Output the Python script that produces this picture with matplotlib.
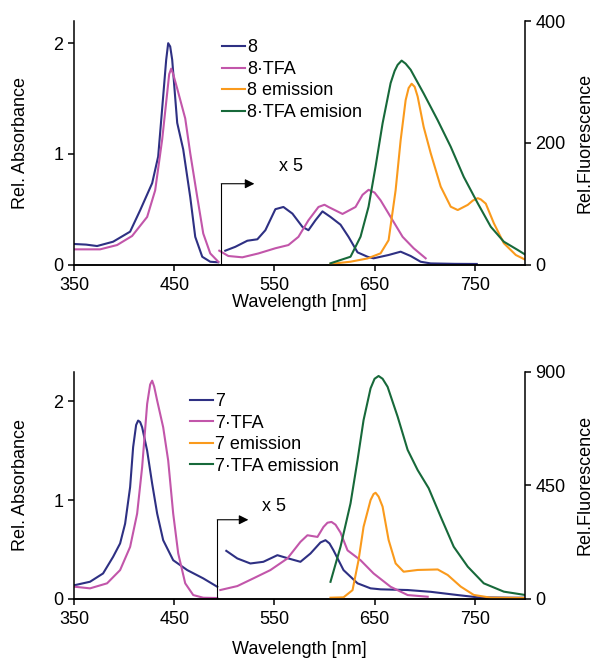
import numpy as np
import matplotlib.pyplot as plt
import matplotlib as mpl

mpl.rcParams.update({
    "font.family": ["Liberation Sans", "DejaVu Sans"],
    "font.size": 13,
    "axes.linewidth": 1.1,
    "xtick.direction": "out",
    "ytick.direction": "out",
    "xtick.major.size": 4,
    "ytick.major.size": 4,
    "xtick.major.width": 1.1,
    "ytick.major.width": 1.1,
    "xtick.major.pad": 5,
    "lines.linewidth": 1.5,
})

NAVY = "#2e3083"
MAGENTA = "#c256aa"
ORANGE = "#fa9a1c"
GREEN = "#17693a"

# ---------------- compound 8 (top panel) ----------------
abs8_x = [351, 362, 373, 389, 406, 416, 428, 434, 439, 442, 444, 446, 448, 453, 459, 466, 471, 478, 486, 494]
abs8_y = [0.185, 0.18, 0.167, 0.206, 0.297, 0.49, 0.735, 0.976, 1.52, 1.85, 2.0, 1.97, 1.85, 1.28, 1.04, 0.61, 0.25, 0.07, 0.025, 0.02]
abs8_x5_x = [501, 511, 523, 533, 541, 551, 559, 568, 578, 584, 591, 598, 606, 616, 624, 633, 643,
             649, 664, 676, 686, 696, 706, 730, 752]
abs8_x5_y = [0.125, 0.16, 0.215, 0.228, 0.31, 0.5, 0.52, 0.46, 0.34, 0.31, 0.40, 0.48, 0.43, 0.36, 0.25, 0.11, 0.07,
             0.056, 0.086, 0.116, 0.077, 0.025, 0.01, 0.006, 0.005]

abs8tfa_x = [351, 376, 393, 408, 423, 431, 438, 443, 445, 447, 449, 453, 461, 466, 473, 479, 486, 494]
abs8tfa_y = [0.137, 0.137, 0.176, 0.258, 0.43, 0.67, 1.13, 1.55, 1.72, 1.77, 1.72, 1.59, 1.32, 1.006, 0.61, 0.28, 0.10, 0.025]
abs8tfa_x5_x = [495, 504, 518, 534, 551, 564, 574, 584, 594, 600, 604, 618, 631, 638, 644, 650, 656, 666, 678, 689, 701]
abs8tfa_x5_y = [0.125, 0.077, 0.065, 0.10, 0.147, 0.176, 0.25, 0.40, 0.52, 0.54, 0.52, 0.457, 0.52, 0.63, 0.675, 0.65, 0.58, 0.43, 0.25, 0.147, 0.056]

em8_x = [606, 626, 643, 656, 664, 671, 676, 681, 684, 687, 690, 693, 699, 706, 716, 726, 733, 743, 748, 753, 756, 761, 769, 779, 791, 801]
em8_y = [1, 4.6, 10, 18.4, 40, 122, 204, 270, 290, 297, 292, 276, 226, 183, 128, 95, 89.5, 98, 105, 109, 107, 100, 68, 35, 15.6, 7.4]

em8tfa_x = [606, 626, 636, 644, 651, 658, 666, 670, 673, 677, 681, 686, 699, 713, 726, 739, 753, 766, 779, 793, 801]
em8tfa_y = [2, 12.8, 45.7, 95, 161, 232, 298, 318, 328, 335, 330, 320, 281, 237, 193.5, 144, 100.5, 62, 37.5, 23.8, 15.6]

# ---------------- compound 7 (bottom panel) ----------------
abs7_x = [351, 366, 379, 389, 396, 401, 406, 409, 412, 414, 416, 418, 423, 428, 433, 439, 449, 463, 479, 493]
abs7_y = [0.138, 0.172, 0.256, 0.424, 0.56, 0.76, 1.13, 1.535, 1.76, 1.805, 1.79, 1.737, 1.50, 1.166, 0.862, 0.593, 0.39, 0.29, 0.206, 0.121]
abs7_x5_x = [502, 513, 526, 539, 553, 564, 576, 586, 596, 601, 605, 609, 619, 633, 646, 656, 683, 706, 733, 753, 789, 800]
abs7_x5_y = [0.485, 0.408, 0.357, 0.374, 0.441, 0.408, 0.374, 0.458, 0.57, 0.593, 0.56, 0.49, 0.29, 0.156, 0.105, 0.095, 0.088, 0.07, 0.037, 0.014, 0.01, 0.01]

abs7tfa_x = [351, 366, 383, 396, 406, 413, 418, 423, 426, 428, 430, 433, 439, 444, 449, 454, 461, 469, 479, 493]
abs7tfa_y = [0.121, 0.105, 0.156, 0.29, 0.525, 0.862, 1.333, 1.974, 2.17, 2.209, 2.15, 2.007, 1.737, 1.40, 0.862, 0.459, 0.156, 0.037, 0.01, 0.007]
abs7tfa_x5_x = [496, 513, 529, 546, 563, 576, 583, 593, 599, 603, 607, 611, 616, 623, 636, 649, 666, 683, 703]
abs7tfa_x5_y = [0.088, 0.128, 0.206, 0.29, 0.408, 0.576, 0.643, 0.626, 0.727, 0.77, 0.778, 0.75, 0.67, 0.49, 0.39, 0.256, 0.121, 0.037, 0.02]

em7_x = [606, 619, 628, 634, 639, 646, 649, 651, 654, 658, 664, 671, 679, 693, 713, 723, 736, 749, 766, 803]
em7_y = [4, 5.5, 34, 153, 285, 391, 415, 420, 405, 365, 233, 140, 107, 114, 116, 94, 48, 15, 4, 3]

em7tfa_x = [606, 616, 626, 633, 639, 646, 650, 654, 658, 663, 673, 683, 693, 704, 716, 729, 743, 759, 779, 800]
em7tfa_y = [67, 206, 378, 550, 708, 834, 872, 883, 872, 840, 722, 590, 510, 438, 325, 206, 127, 61, 28, 15]

x_ticks = [350, 450, 550, 650, 750]


def panel(rect, name, abs_x, abs_y, absx5_x, absx5_y, tfa_x, tfa_y, tfax5_x, tfax5_y,
          em_x, em_y, emt_x, emt_y, abs_top, abs_ticks, fl_top, fl_ticks, emt_label,
          arrow_x, arrow_y, arrow_end, text_xy, leg_xy, xlabelpad):
    ax = fig.add_axes(rect)
    ax2 = ax.twinx()

    ax.plot(abs_x, abs_y, color=NAVY)
    ax.plot(absx5_x, absx5_y, color=NAVY)
    ax.plot(tfa_x, tfa_y, color=MAGENTA)
    ax.plot(tfax5_x, tfax5_y, color=MAGENTA)
    ax2.plot(em_x, em_y, color=ORANGE)
    ax2.plot(emt_x, emt_y, color=GREEN)

    ax.set_xlim(350, 800)
    ax.set_ylim(0, abs_top)
    ax2.set_ylim(0, fl_top)
    ax.set_xticks(x_ticks)
    ax.set_yticks(abs_ticks)
    ax2.set_yticks(fl_ticks)

    for a in (ax, ax2):
        a.spines["top"].set_visible(False)
    ax.spines["right"].set_visible(False)
    ax2.spines["left"].set_visible(False)

    ax.set_xlabel("Wavelength [nm]", labelpad=xlabelpad)
    ax.set_ylabel("Rel. Absorbance")
    ax2.set_ylabel("Rel.Fluorescence")
    ax.yaxis.set_label_coords(-0.100, 0.5)
    ax2.yaxis.set_label_coords(1.115, 0.5)

    # x5 marker
    ax.plot([arrow_x, arrow_x], [0, arrow_y], color="black", lw=0.8)
    ax.annotate("", xy=(arrow_end, arrow_y), xytext=(arrow_x, arrow_y),
                arrowprops=dict(arrowstyle="-|>", color="black", lw=0.8,
                                mutation_scale=14, shrinkA=0, shrinkB=0))
    ax.text(text_xy[0], text_xy[1], "x 5", ha="left", va="center")

    handles = [
        mpl.lines.Line2D([], [], color=NAVY),
        mpl.lines.Line2D([], [], color=MAGENTA),
        mpl.lines.Line2D([], [], color=ORANGE),
        mpl.lines.Line2D([], [], color=GREEN),
    ]
    labels = [name, name + "\u00b7TFA", name + " emission", emt_label]
    ax2.legend(handles, labels, loc="upper left", bbox_to_anchor=leg_xy,
               frameon=False, borderpad=0, borderaxespad=0,
               handlelength=1.3, handletextpad=0.1, labelspacing=0.25)
    return ax, ax2


fig = plt.figure(figsize=(5.94, 6.58), dpi=100)

panel([0.1246, 0.598, 0.759, 0.370], "8",
      abs8_x, abs8_y, abs8_x5_x, abs8_x5_y,
      abs8tfa_x, abs8tfa_y, abs8tfa_x5_x, abs8tfa_x5_y,
      em8_x, em8_y, em8tfa_x, em8tfa_y,
      2.2, [0, 1, 2], 400, [0, 200, 400], "8\u00b7TFA emision",
      497, 0.73, 530, (555, 0.89), (0.328, 0.925), 0)

panel([0.1246, 0.0901, 0.759, 0.345], "7",
      abs7_x, abs7_y, abs7_x5_x, abs7_x5_y,
      abs7tfa_x, abs7tfa_y, abs7tfa_x5_x, abs7tfa_x5_y,
      em7_x, em7_y, em7tfa_x, em7tfa_y,
      2.3, [0, 1, 2], 900, [0, 450, 900], "7\u00b7TFA emission",
      493, 0.80, 524, (538, 0.93), (0.257, 0.905), 9)

fig.savefig("out.png", dpi=100)
